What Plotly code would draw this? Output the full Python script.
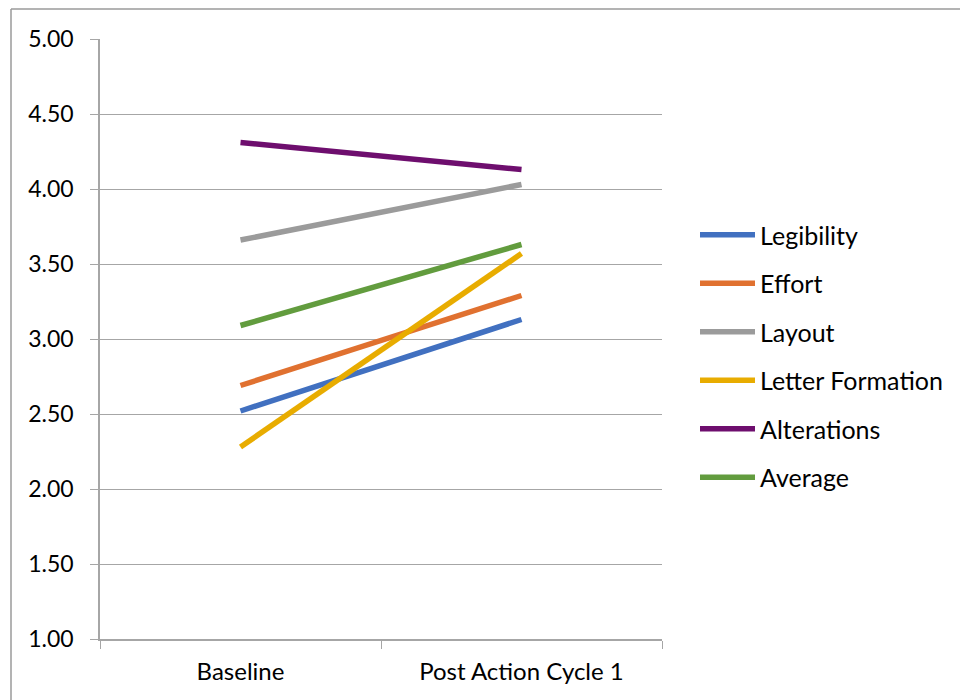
import plotly.graph_objects as go

# Assessment points on the x axis
categories = ["Baseline", "Post Action Cycle 1"]

# Mean rating for each handwriting criterion
legibility = [2.52, 3.13]
effort = [2.69, 3.29]
layout_vals = [3.66, 4.03]
letter_formation = [2.28, 3.57]
alterations = [4.31, 4.13]
average = [3.09, 3.63]

series_names = ["Legibility", "Effort", "Layout", "Letter Formation", "Alterations", "Average"]
series_values = [legibility, effort, layout_vals, letter_formation, alterations, average]
series_colors = ["#4170C0", "#E07130", "#9B9B9B", "#E8AC00", "#6E0E6E", "#629C3E"]

FONT = "Lato, Carlito, Calibri, sans-serif"

fig = go.Figure()
for i, (name, vals, col) in enumerate(zip(series_names, series_values, series_colors)):
    fig.add_trace(go.Scatter(
        x=categories, y=vals, name=name, mode="lines",
        line=dict(color=col, width=5.5),
        legendgroup=f"g{i}",
    ))

W, H = 960, 700
L, R, T, B = 100, 298, 39, 61
pw, ph = W - L - R, H - T - B

def px_x(x):
    return (x - L) / pw

def px_y(y):
    return 1 - (y - T) / ph

fig.update_layout(
    width=W, height=H,
    margin=dict(l=L, r=R, t=T, b=B),
    paper_bgcolor="white", plot_bgcolor="white",
    font=dict(family=FONT, size=23, color="#000000"),
    showlegend=True,
    legend=dict(
        x=px_x(695), y=px_y(212), xanchor="left", yanchor="top",
        font=dict(family=FONT, size=25, color="#000000"),
        tracegroupgap=13, itemwidth=55,
        bgcolor="rgba(0,0,0,0)",
    ),
    xaxis=dict(
        type="category", range=[-0.5, 1.5],
        showgrid=False, showline=True, linecolor="#a6a6a6", linewidth=1.5,
        ticks="outside", tickson="boundaries", ticklen=8, tickcolor="#a6a6a6",
        tickfont=dict(family=FONT, size=24), zeroline=False,
        ticklabelstandoff=10,
    ),
    yaxis=dict(
        range=[1, 5], dtick=0.5, tickformat=".2f",
        showgrid=True, gridcolor="#a6a6a6", gridwidth=1,
        showline=True, linecolor="#a6a6a6", linewidth=1.5,
        ticks="outside", ticklen=8, tickcolor="#a6a6a6",
        tickfont=dict(family=FONT, size=23), zeroline=False,
        ticklabelstandoff=12,
    ),
    shapes=[
        dict(type="line", xref="paper", yref="paper",
             x0=px_x(11), x1=px_x(11), y0=px_y(9), y1=px_y(720),
             line=dict(color="#9a9a9a", width=1.5)),
        dict(type="line", xref="paper", yref="paper",
             x0=px_x(11), x1=px_x(980), y0=px_y(9), y1=px_y(9),
             line=dict(color="#9a9a9a", width=1.5)),
    ],
)

fig.write_html("out.html")
